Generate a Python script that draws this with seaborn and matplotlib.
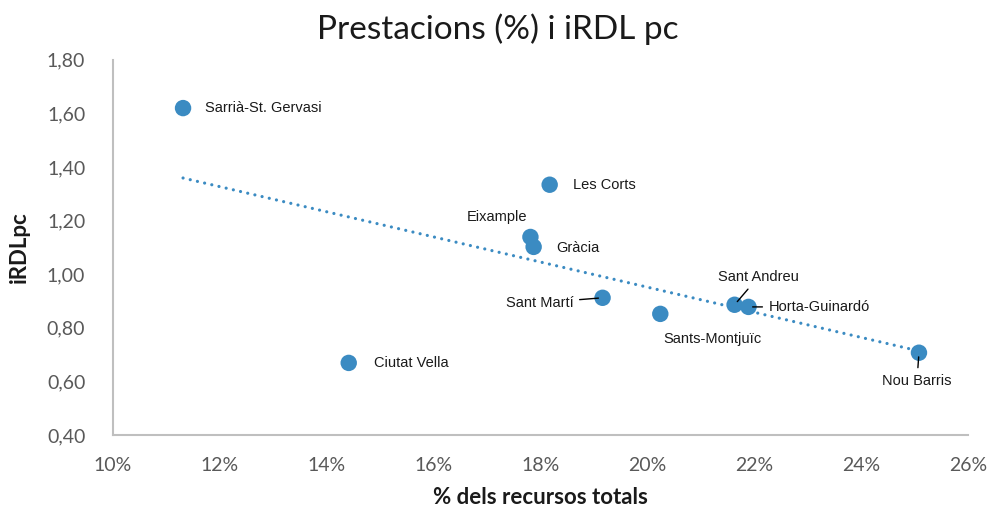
import matplotlib
matplotlib.use("Agg")
import matplotlib.pyplot as plt
import seaborn as sns
import pandas as pd
from matplotlib.ticker import FuncFormatter

# data
districts = ["Sarrià-St. Gervasi", "Les Corts", "Eixample", "Gràcia", "Sant Martí",
             "Sants-Montjuïc", "Sant Andreu", "Horta-Guinardó", "Nou Barris", "Ciutat Vella"]
pct_recursos = [11.31, 18.17, 17.81, 17.87, 19.16, 20.24, 21.63, 21.89, 25.08, 14.41]
irdl_pc = [1.62, 1.334, 1.139, 1.102, 0.912, 0.852, 0.886, 0.878, 0.707, 0.669]

df = pd.DataFrame({"district": districts, "pct": pct_recursos, "irdl": irdl_pc})

sns.set_theme(style="white")
plt.rcParams["font.family"] = ["Lato", "DejaVu Sans"]

blue = "#3b8bc2"
fig = plt.figure(figsize=(9.95, 5.16), dpi=100)
ax = fig.add_axes([0.1136, 0.157, 0.8594, 0.727])

sns.regplot(data=df, x="pct", y="irdl", ax=ax, scatter=False, ci=None, truncate=True,
            line_kws={"color": blue, "linestyle": (0, (0.01, 2.3)), "linewidth": 2.3,
                      "dash_capstyle": "round"})
sns.scatterplot(data=df, x="pct", y="irdl", ax=ax, color=blue, s=140, edgecolor="none", zorder=3)

# label placement: (dx, dy) in pixels, alignment, leader line
labels = {
    "Sarrià-St. Gervasi": ((22, 0), "left", False),
    "Les Corts": ((23, 0), "left", False),
    "Eixample": ((-33, 20), "center", False),
    "Gràcia": ((23, -1), "left", False),
    "Sant Martí": ((-29, -5), "right", True),
    "Sants-Montjuïc": ((52, -25), "center", False),
    "Sant Andreu": ((24, 28), "center", True),
    "Horta-Guinardó": ((20, 0), "left", True),
    "Nou Barris": ((-2, -28), "center", True),
    "Ciutat Vella": ((25, 0), "left", False),
}
lbl_font = ["Liberation Sans Narrow", "Liberation Sans", "DejaVu Sans"]
for name, x, y in zip(districts, pct_recursos, irdl_pc):
    (dx, dy), ha, leader = labels[name]
    kw = {}
    if leader:
        kw["arrowprops"] = dict(arrowstyle="-", color="black", lw=1.0, shrinkA=2, shrinkB=3)
    ax.annotate(name, (x, y), xytext=(dx, dy), textcoords="offset pixels",
                ha=ha, va="center", fontsize=10.5, family=lbl_font, color="#1a1a1a", **kw)

ax.set_xlim(10, 26)
ax.set_ylim(0.4, 1.8)
ax.set_xticks(range(10, 27, 2))
ax.set_yticks([0.4, 0.6, 0.8, 1.0, 1.2, 1.4, 1.6, 1.8])
ax.xaxis.set_major_formatter(FuncFormatter(lambda v, p: f"{v:.0f}%"))
ax.yaxis.set_major_formatter(FuncFormatter(lambda v, p: f"{v:.2f}".replace(".", ",")))
ax.tick_params(axis="both", labelsize=14, colors="#595959", length=0)
ax.tick_params(axis="y", pad=20)
ax.tick_params(axis="x", pad=16)

for s in ["top", "right"]:
    ax.spines[s].set_visible(False)
for s in ["left", "bottom"]:
    ax.spines[s].set_color("#bfbfbf")
    ax.spines[s].set_linewidth(1.5)

ax.set_xlabel("% dels recursos totals", fontsize=16, fontweight="bold", color="#1a1a1a", labelpad=9)
ax.set_ylabel("iRDLpc", fontsize=16, fontweight="bold", color="#1a1a1a", labelpad=12)
fig.suptitle("Prestacions (%) i iRDL pc", fontsize=24, y=0.975, color="#1a1a1a")

fig.savefig("out.png", dpi=100)
